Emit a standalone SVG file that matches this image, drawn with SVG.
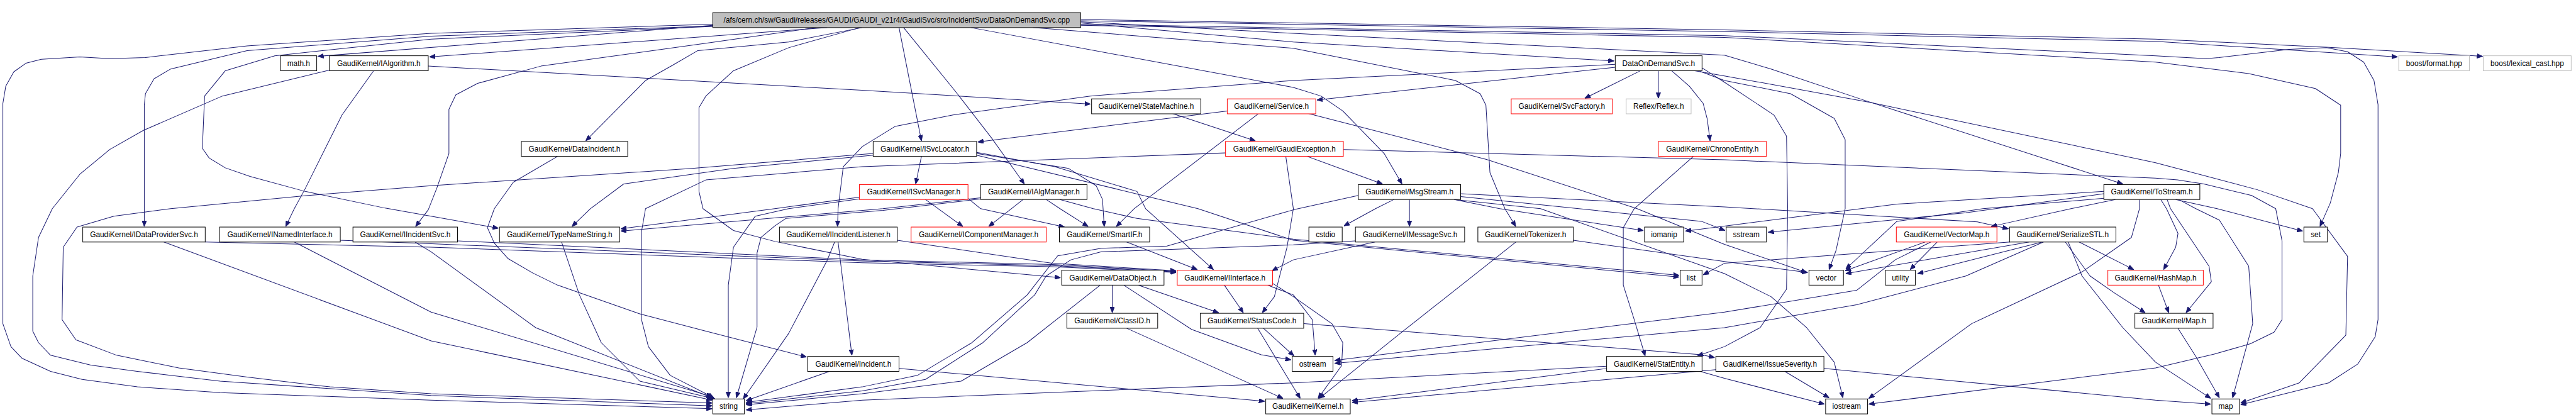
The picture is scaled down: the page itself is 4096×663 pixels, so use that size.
<svg xmlns="http://www.w3.org/2000/svg" width="4096" height="663" viewBox="0 0 4096 663">
<defs>
<marker id="a" markerWidth="10" markerHeight="8" refX="10" refY="4" orient="auto" markerUnits="userSpaceOnUse"><path d="M0,0 L10,4 L0,8 z" fill="#191970" stroke="#191970" stroke-width="1"/></marker>
<style>
.n rect{fill:#fff;stroke:#000;stroke-width:1.1}
.n.r rect{stroke:#f00}
.n.x rect{stroke:#bfbfbf}
.n.root rect{fill:#bfbfbf}
.n text{font-family:"Liberation Sans",Arial,sans-serif;font-size:13px;text-anchor:middle;fill:#000}
#edges path{fill:none;stroke:#191970;stroke-width:1.1;stroke-linejoin:round;marker-end:url(#a)}
</style>
</defs>
<rect width="4096" height="663" fill="#fff"/>
<g transform="scale(0.914)">
<g id="edges">
<path d="M1240,44 L553,98"/>
<path d="M1439,48 L747,99"/>
<path d="M1240,42 L750,58 L430,80 L253,100 L191,102 L139,99 L72,103 L45,110 L24,125 L10,150 L5,180 L5,563 L19,603 L38,623 L88,646 L143,660 L239,673 L383,683 L750,696 L1239,711"/>
<path d="M1240,45 L750,63 L430,88 L392,97 L297,120 L268,137 L253,163 L251,183 L251,394"/>
<path d="M1240,46 L750,68 L478,97 L392,123 L356,167 L352,258 L364,275 L392,292 L435,307 L531,333 L670,362 L750,376 L867,397"/>
<path d="M1420,48 L1230,75 L941,115 L831,145 L793,165 L781,190 L781,267 L760,327 L745,365 L723,394"/>
<path d="M1500,48 L1372,73 L1214,88 L1171,113 L1123,140 L1019,245"/>
<path d="M1496,48 L1372,83 L1276,123 L1228,167 L1216,187 L1216,333 L1223,363 L1276,401 L1348,420 L1500,451 L1845,483"/>
<path d="M1564,48 L1603,245"/>
<path d="M1572,48 L1663,160 L1725,240 L1782,320"/>
<path d="M1880,40 L2250,73 L2808,106"/>
<path d="M1689,48 L2250,152 L2298,167 L2336,193 L2408,267 L2439,320"/>
<path d="M1797,48 L2250,84 L2532,140 L2575,163 L2585,183 L2592,300 L2618,363 L2637,394"/>
<path d="M1880,38 L2250,58 L3000,96 L3081,120 L3239,173 L3693,320"/>
<path d="M1880,34 L3000,52 L3750,68 L4047,82 L4319,98"/>
<path d="M1880,36 L3000,55 L3750,72 L4171,99"/>
<path d="M1880,42 L3000,62 L3750,97 L3838,102 L3860,100 L3982,86 L4047,83 L4084,90 L4112,108 L4130,140 L4137,182 L4137,556 L4132,586 L4102,633 L4051,666 L3898,704"/>
<path d="M1880,44 L3000,65 L3750,108 L3912,128 L4028,154 L4072,183 L4072,267 L4068,300 L4054,353 L4036,394"/>
<path d="M2810,117 L2291,174"/>
<path d="M2810,112 L2250,140 L1897,167 L1658,200 L1557,220 L1500,255 L1467,290 L1458,363 L1457,394"/>
<path d="M2854,123 L2757,171"/>
<path d="M2885,123 L2885,171"/>
<path d="M2908,123 L2939,150 L2963,180 L2970,207 L2975,245"/>
<path d="M2948,123 L3000,132 L3253,178 L3750,283 L3927,330 L4023,363 L4084,446 L4081,583 L4000,666 L3898,701"/>
<path d="M2955,123 L3000,140 L3115,163 L3191,206 L3210,243 L3210,363 L3194,436 L3182,469"/>
<path d="M2961,118 L3000,143 L3086,200 L3108,237 L3110,363 L3108,503 L3062,570 L3000,603 L2953,619"/>
<path d="M745,115 L1500,157 L1897,181"/>
<path d="M650,123 L595,200 L530,330 L512,363 L497,394"/>
<path d="M573,122 L387,167 L249,227 L191,260 L139,303 L91,363 L67,413 L57,480 L57,576 L67,596 L88,618 L158,635 L239,646 L383,663 L750,688 L1239,706"/>
<path d="M2038,197 L2184,245"/>
<path d="M2135,193 L1701,247"/>
<path d="M2189,198 L1973,363 L1942,394"/>
<path d="M2274,197 L2585,277 L2848,363 L3000,425 L3143,474"/>
<path d="M1603,272 L1593,320"/>
<path d="M1519,270 L1276,293 L1085,320 L1027,363 L995,394"/>
<path d="M1519,267 L1204,293 L750,323 L536,340 L297,363 L198,376 L134,395 L110,430 L108,556 L132,591 L203,618 L311,640 L430,656 L574,673 L750,685 L1239,701"/>
<path d="M1699,267 L1859,293 L1907,323 L1918,347 L1921,394"/>
<path d="M1699,265 L1835,290 L1978,333 L1993,363 L2111,469"/>
<path d="M1699,270 L2084,363 L2250,418 L2921,482"/>
<path d="M1610,347 L1675,394"/>
<path d="M1495,343 L1348,363 L1080,398"/>
<path d="M1495,346 L1372,363 L1314,376 L1276,430 L1267,496 L1267,692"/>
<path d="M1684,345 L1706,363 L1852,395"/>
<path d="M1780,347 L1720,394"/>
<path d="M1820,347 L1844,363 L1893,394"/>
<path d="M1706,344 L1536,363 L1080,402"/>
<path d="M1844,347 L1902,363 L1978,380 L2250,416 L2921,479"/>
<path d="M1706,346 L1536,366 L1367,380 L1348,393 L1324,413 L1317,440 L1317,569 L1281,692"/>
<path d="M970,272 L893,317 L860,363 L848,396 L860,423 L884,450 L927,475 L970,496 L1113,546 L1228,576 L1403,621"/>
<path d="M1443,646 L1298,697"/>
<path d="M1564,641 L2200,698"/>
<path d="M1458,421 L1482,618"/>
<path d="M1452,421 L1439,453 L1372,580 L1293,694"/>
<path d="M1561,418 L1830,458 L2046,471"/>
<path d="M285,421 L750,593 L1239,696"/>
<path d="M357,421 L750,430 L1500,457 L1830,464 L2046,474"/>
<path d="M512,421 L750,543 L1239,690"/>
<path d="M592,418 L750,424 L1500,454 L1830,462 L2046,473"/>
<path d="M722,421 L750,438 L932,570 L1239,692"/>
<path d="M796,419 L1500,452 L1830,460 L2046,472"/>
<path d="M977,421 L1008,513 L1046,596 L1113,663 L1244,694"/>
<path d="M1960,421 L2083,469"/>
<path d="M1935,496 L1935,544"/>
<path d="M1980,496 L2120,544"/>
<path d="M1955,496 L2073,573 L2194,617 L2246,626"/>
<path d="M1914,496 L1787,596 L1672,663 L1500,685 L1298,704"/>
<path d="M1960,571 L2232,693"/>
<path d="M2188,571 L2262,693"/>
<path d="M2198,571 L2251,619"/>
<path d="M2268,563 L2960,617 L2983,622"/>
<path d="M2130,496 L2163,544"/>
<path d="M2205,496 L2250,513 L2283,556 L2288,618"/>
<path d="M2214,493 L2250,516 L2317,563 L2336,596 L2334,636 L2293,693"/>
<path d="M2274,272 L2405,320"/>
<path d="M2237,273 L2250,363 L2239,430 L2217,516 L2196,544"/>
<path d="M2337,260 L3000,278 L3750,310 L3788,313 L3834,320 L3917,340 L3959,363 L3970,419 L3970,556 L3956,578 L3915,598 L3852,616 L3750,640 L3251,703"/>
<path d="M2132,266 L1500,290 L1228,313 L1123,363 L1116,403 L1116,556 L1128,603 L1166,653 L1242,692"/>
<path d="M2425,347 L2393,363 L2338,393"/>
<path d="M2452,347 L2452,394"/>
<path d="M2530,347 L2609,363 L2859,401"/>
<path d="M2541,342 L2960,385 L3001,401"/>
<path d="M2363,340 L2250,365 L2030,428 L1916,432 L1840,445 L1787,513 L1691,596 L1596,653 L1500,673 L1298,700"/>
<path d="M2358,419 L2250,426 L2030,434 L1916,438 L1863,452 L1820,480 L1800,513 L1710,596 L1610,660 L1500,680 L1298,702"/>
<path d="M2392,421 L2250,452 L2213,471"/>
<path d="M2541,337 L3000,360 L3440,386 L3494,398"/>
<path d="M2530,347 L2680,363 L3000,476 L3081,516 L3143,570 L3191,630 L3206,692"/>
<path d="M3680,347 L3603,363 L3464,394"/>
<path d="M3759,347 L3769,363 L3789,406 L3785,430 L3764,469"/>
<path d="M3770,347 L3776,363 L3843,463 L3847,490 L3803,544"/>
<path d="M3790,347 L3820,363 L3861,383 L3912,463 L3919,563 L3884,692"/>
<path d="M3785,347 L3857,363 L4006,402"/>
<path d="M3722,347 L3722,363 L3708,413 L3622,473 L3430,563 L3251,693"/>
<path d="M3660,337 L3420,370 L3076,404"/>
<path d="M3660,333 L3300,355 L2932,402"/>
<path d="M3660,345 L3450,363 L3300,385 L3211,468"/>
<path d="M3497,421 L3000,458 L2963,478"/>
<path d="M3530,421 L3211,476"/>
<path d="M3553,421 L3336,476"/>
<path d="M3555,421 L3420,480 L3230,530 L3000,570 L2322,632"/>
<path d="M3617,421 L3712,469"/>
<path d="M3593,421 L3636,480 L3679,510 L3732,544"/>
<path d="M3598,421 L3622,480 L3693,570 L3750,630 L3846,693"/>
<path d="M3349,421 L3210,471"/>
<path d="M3370,421 L3323,469"/>
<path d="M3359,421 L3297,452 L3230,505 L3000,543 L2322,627"/>
<path d="M3755,496 L3773,544"/>
<path d="M3789,571 L3820,620 L3861,692"/>
<path d="M3105,646 L3182,692"/>
<path d="M3173,641 L3750,696 L3846,703"/>
<path d="M2985,643 L2352,700"/>
<path d="M2795,641 L2352,697"/>
<path d="M2795,637 L2250,666 L1500,696 L1298,713"/>
<path d="M2954,645 L3000,658 L3174,703"/>
<path d="M2946,272 L2843,363 L2824,396 L2824,496 L2843,556 L2862,619"/>
<path d="M2637,421 L2441,576 L2295,693"/>
<path d="M2737,418 L3000,455 L3145,474"/>
</g>
<g id="n_root" class="n root"><rect x="1240" y="22" width="640" height="26"/><text x="1560" y="39.5">/afs/cern.ch/sw/Gaudi/releases/GAUDI/GAUDI_v21r4/GaudiSvc/src/IncidentSvc/DataOnDemandSvc.cpp</text></g>
<g id="n_math" class="n"><rect x="488" y="97" width="63" height="26"/><text x="519.5" y="114.5">math.h</text></g>
<g id="n_IAlgorithm" class="n"><rect x="573" y="97" width="172" height="26"/><text x="659" y="114.5">GaudiKernel/IAlgorithm.h</text></g>
<g id="n_DataOnDemandSvc" class="n"><rect x="2810" y="97" width="151" height="26"/><text x="2885.5" y="114.5">DataOnDemandSvc.h</text></g>
<g id="n_format" class="n x"><rect x="4173" y="97" width="123" height="26"/><text x="4234.5" y="114.5">boost/format.hpp</text></g>
<g id="n_lexical" class="n x"><rect x="4320" y="97" width="153" height="26"/><text x="4396.5" y="114.5">boost/lexical_cast.hpp</text></g>
<g id="n_StateMachine" class="n"><rect x="1899" y="172" width="190" height="26"/><text x="1994" y="189.5">GaudiKernel/StateMachine.h</text></g>
<g id="n_Service" class="n r"><rect x="2135" y="172" width="154" height="26"/><text x="2212" y="189.5">GaudiKernel/Service.h</text></g>
<g id="n_SvcFactory" class="n r"><rect x="2629" y="172" width="176" height="26"/><text x="2717" y="189.5">GaudiKernel/SvcFactory.h</text></g>
<g id="n_Reflex" class="n x"><rect x="2829" y="172" width="113" height="26"/><text x="2885.5" y="189.5">Reflex/Reflex.h</text></g>
<g id="n_DataIncident" class="n"><rect x="907" y="246" width="185" height="26"/><text x="999.5" y="263.5">GaudiKernel/DataIncident.h</text></g>
<g id="n_ISvcLocator" class="n"><rect x="1519" y="246" width="180" height="26"/><text x="1609" y="263.5">GaudiKernel/ISvcLocator.h</text></g>
<g id="n_GaudiException" class="n r"><rect x="2132" y="246" width="205" height="26"/><text x="2234.5" y="263.5">GaudiKernel/GaudiException.h</text></g>
<g id="n_ChronoEntity" class="n r"><rect x="2885" y="246" width="188" height="26"/><text x="2979" y="263.5">GaudiKernel/ChronoEntity.h</text></g>
<g id="n_ISvcManager" class="n r"><rect x="1495" y="321" width="189" height="26"/><text x="1589.5" y="338.5">GaudiKernel/ISvcManager.h</text></g>
<g id="n_IAlgManager" class="n"><rect x="1706" y="321" width="185" height="26"/><text x="1798.5" y="338.5">GaudiKernel/IAlgManager.h</text></g>
<g id="n_MsgStream" class="n"><rect x="2363" y="321" width="178" height="26"/><text x="2452" y="338.5">GaudiKernel/MsgStream.h</text></g>
<g id="n_ToStream" class="n"><rect x="3660" y="321" width="167" height="26"/><text x="3743.5" y="338.5">GaudiKernel/ToStream.h</text></g>
<g id="n_IDataProviderSvc" class="n"><rect x="144" y="395" width="213" height="26"/><text x="250.5" y="412.5">GaudiKernel/IDataProviderSvc.h</text></g>
<g id="n_INamedInterface" class="n"><rect x="382" y="395" width="210" height="26"/><text x="487" y="412.5">GaudiKernel/INamedInterface.h</text></g>
<g id="n_IIncidentSvc" class="n"><rect x="614" y="395" width="182" height="26"/><text x="705" y="412.5">GaudiKernel/IIncidentSvc.h</text></g>
<g id="n_TypeNameString" class="n"><rect x="869" y="395" width="209" height="26"/><text x="973.5" y="412.5">GaudiKernel/TypeNameString.h</text></g>
<g id="n_IIncidentListener" class="n"><rect x="1356" y="395" width="205" height="26"/><text x="1458.5" y="412.5">GaudiKernel/IIncidentListener.h</text></g>
<g id="n_IComponentManager" class="n r"><rect x="1585" y="395" width="235" height="26"/><text x="1702.5" y="412.5">GaudiKernel/IComponentManager.h</text></g>
<g id="n_SmartIF" class="n"><rect x="1843" y="395" width="157" height="26"/><text x="1921.5" y="412.5">GaudiKernel/SmartIF.h</text></g>
<g id="n_cstdio" class="n"><rect x="2277" y="395" width="58" height="26"/><text x="2306" y="412.5">cstdio</text></g>
<g id="n_IMessageSvc" class="n"><rect x="2358" y="395" width="190" height="26"/><text x="2453" y="412.5">GaudiKernel/IMessageSvc.h</text></g>
<g id="n_Tokenizer" class="n"><rect x="2571" y="395" width="166" height="26"/><text x="2654" y="412.5">GaudiKernel/Tokenizer.h</text></g>
<g id="n_iomanip" class="n"><rect x="2861" y="395" width="68" height="26"/><text x="2895" y="412.5">iomanip</text></g>
<g id="n_sstream" class="n"><rect x="3003" y="395" width="70" height="26"/><text x="3038" y="412.5">sstream</text></g>
<g id="n_VectorMap" class="n r"><rect x="3299" y="395" width="175" height="26"/><text x="3386.5" y="412.5">GaudiKernel/VectorMap.h</text></g>
<g id="n_SerializeSTL" class="n"><rect x="3496" y="395" width="185" height="26"/><text x="3588.5" y="412.5">GaudiKernel/SerializeSTL.h</text></g>
<g id="n_set" class="n"><rect x="4008" y="395" width="41" height="26"/><text x="4028.5" y="412.5">set</text></g>
<g id="n_DataObject" class="n"><rect x="1847" y="470" width="178" height="26"/><text x="1936" y="487.5">GaudiKernel/DataObject.h</text></g>
<g id="n_IInterface" class="n r"><rect x="2048" y="470" width="166" height="26"/><text x="2131" y="487.5">GaudiKernel/IInterface.h</text></g>
<g id="n_list" class="n"><rect x="2923" y="470" width="38" height="26"/><text x="2942" y="487.5">list</text></g>
<g id="n_vector" class="n"><rect x="3147" y="470" width="60" height="26"/><text x="3177" y="487.5">vector</text></g>
<g id="n_utility" class="n"><rect x="3280" y="470" width="52" height="26"/><text x="3306" y="487.5">utility</text></g>
<g id="n_HashMap" class="n r"><rect x="3667" y="470" width="166" height="26"/><text x="3750" y="487.5">GaudiKernel/HashMap.h</text></g>
<g id="n_ClassID" class="n"><rect x="1856" y="545" width="158" height="26"/><text x="1935" y="562.5">GaudiKernel/ClassID.h</text></g>
<g id="n_StatusCode" class="n"><rect x="2088" y="545" width="180" height="26"/><text x="2178" y="562.5">GaudiKernel/StatusCode.h</text></g>
<g id="n_Map" class="n"><rect x="3714" y="545" width="136" height="26"/><text x="3782" y="562.5">GaudiKernel/Map.h</text></g>
<g id="n_Incident" class="n"><rect x="1405" y="620" width="159" height="26"/><text x="1484.5" y="637.5">GaudiKernel/Incident.h</text></g>
<g id="n_ostream" class="n"><rect x="2248" y="620" width="71" height="26"/><text x="2283.5" y="637.5">ostream</text></g>
<g id="n_StatEntity" class="n"><rect x="2795" y="620" width="166" height="26"/><text x="2878" y="637.5">GaudiKernel/StatEntity.h</text></g>
<g id="n_IssueSeverity" class="n"><rect x="2985" y="620" width="188" height="26"/><text x="3079" y="637.5">GaudiKernel/IssueSeverity.h</text></g>
<g id="n_string" class="n"><rect x="1240" y="694" width="55" height="26"/><text x="1267.5" y="711.5">string</text></g>
<g id="n_Kernel" class="n"><rect x="2202" y="694" width="147" height="26"/><text x="2275.5" y="711.5">GaudiKernel/Kernel.h</text></g>
<g id="n_iostream" class="n"><rect x="3176" y="694" width="73" height="26"/><text x="3212.5" y="711.5">iostream</text></g>
<g id="n_map" class="n"><rect x="3848" y="694" width="48" height="26"/><text x="3872" y="711.5">map</text></g>
</g>
</svg>
